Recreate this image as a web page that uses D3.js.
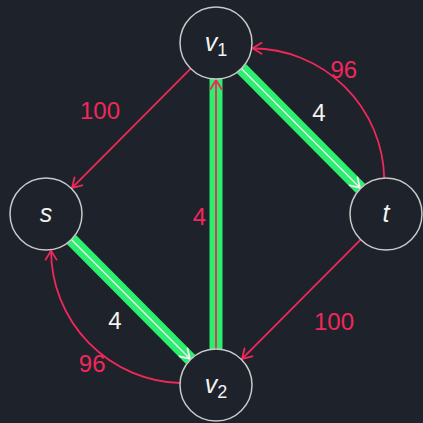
<!DOCTYPE html>
<html>
<head>
<meta charset="utf-8">
<script src="https://cdn.jsdelivr.net/npm/d3@7"></script>
<style>
  html, body { margin: 0; background: #1e222b; }
  svg { display: block; }
</style>
</head>
<body>
<div id="chart"></div>
<script>
// graph data
const nodeIds = ['s', 'v1', 't', 'v2']
const nodeNames = ['s', 'v', 't', 'v']
const nodeSubs = ['', '1', '', '2']
const nodeCol = [0, 1, 2, 1]
const nodeRow = [1, 0, 1, 2]

const edgeSources = ['v1', 't', 'v1', 't', 'v2', 's', 'v2']
const edgeTargets = ['s', 'v2', 't', 'v1', 'v1', 'v2', 's']
const edgeValues = [100, 100, 4, 96, 4, 4, 96]
// residual: plain red, reverse: curved red, flow: green band w/ white, path: green band w/ red
const edgeKinds = ['residual', 'residual', 'flow', 'reverse', 'path', 'flow', 'reverse']

const width = 423
const height = 423
const R = 36
const RED = '#f0285a'
const GREEN = '#2cef6f'
const WHITE = '#f2f2f2'
const BG = '#1e222b'

// label nudges (px) from the edge middle
const labelNudge = [[-31, -18.5], [33, 21.5], [18, -16.5], [-1, -17], [-16.5, 2], [-16, 21], [3, 20]]

const x = d3.scaleLinear().domain([0, 2]).range([46, 386])
const y = d3.scaleLinear().domain([0, 2]).range([43, 385])

const nodes = nodeIds.map((id, i) => ({
  id, name: nodeNames[i], sub: nodeSubs[i], x: x(nodeCol[i]), y: y(nodeRow[i]),
}))
const byId = Object.fromEntries(nodes.map(n => [n.id, n]))
const center = { x: d3.mean(nodes, n => n.x), y: d3.mean(nodes, n => n.y) }

const svg = d3.select('#chart').append('svg')
  .attr('width', width).attr('height', height)

svg.append('rect').attr('width', width).attr('height', height).attr('fill', BG)

const defs = svg.append('defs')
function marker(id, color) {
  defs.append('marker')
    .attr('id', id)
    .attr('markerUnits', 'userSpaceOnUse')
    .attr('viewBox', '-12 -8 14 16')
    .attr('refX', 0).attr('refY', 0)
    .attr('markerWidth', 14).attr('markerHeight', 16)
    .attr('orient', 'auto')
    .append('path')
    .attr('d', 'M-9,-5.5L0,0L-9,5.5')
    .attr('fill', 'none')
    .attr('stroke', color)
    .attr('stroke-width', 1.8)
    .attr('stroke-linecap', 'round')
    .attr('stroke-linejoin', 'round')
}
marker('arrow-red', RED)
marker('arrow-white', WHITE)

const deg = Math.PI / 180
const bands = svg.append('g')
const lines = svg.append('g')
const texts = svg.append('g')

edgeSources.forEach((src, i) => {
  const a = byId[src]
  const b = byId[edgeTargets[i]]
  const kind = edgeKinds[i]
  const dx = b.x - a.x
  const dy = b.y - a.y
  const len = Math.hypot(dx, dy)
  const ux = dx / len
  const uy = dy / len
  const mid = { x: (a.x + b.x) / 2, y: (a.y + b.y) / 2 }
  let lx, ly

  if (kind === 'reverse') {
    // bulge away from the middle of the graph
    const ox = mid.x - center.x
    const oy = mid.y - center.y
    const sign = (-uy * ox + ux * oy) > 0 ? 1 : -1
    const ang = Math.atan2(dy, dx)
    const sa = ang + sign * 42 * deg
    const ea = ang + Math.PI - sign * 37 * deg
    const s = { x: a.x + R * Math.cos(sa), y: a.y + R * Math.sin(sa) }
    const e = { x: b.x + (R + 1) * Math.cos(ea), y: b.y + (R + 1) * Math.sin(ea) }
    const rr = 133
    lines.append('path')
      .attr('d', `M${s.x},${s.y}A${rr},${rr} 0 0 ${sign > 0 ? 0 : 1} ${e.x},${e.y}`)
      .attr('fill', 'none')
      .attr('stroke', RED)
      .attr('stroke-width', 1.8)
      .attr('marker-end', 'url(#arrow-red)')
    const ch = Math.hypot(e.x - s.x, e.y - s.y) / 2
    const sag = rr - Math.sqrt(rr * rr - ch * ch)
    const on = Math.hypot(ox, oy)
    lx = (s.x + e.x) / 2 + (ox / on) * sag
    ly = (s.y + e.y) / 2 + (oy / on) * sag
  } else {
    const s = { x: a.x + ux * R, y: a.y + uy * R }
    const e = { x: b.x - ux * (R + 1), y: b.y - uy * (R + 1) }
    if (kind === 'flow' || kind === 'path') {
      bands.append('line')
        .attr('x1', a.x + ux * R).attr('y1', a.y + uy * R)
        .attr('x2', b.x - ux * R).attr('y2', b.y - uy * R)
        .attr('stroke', GREEN)
        .attr('stroke-width', 13)
    }
    const color = kind === 'flow' ? WHITE : RED
    lines.append('line')
      .attr('x1', s.x).attr('y1', s.y)
      .attr('x2', e.x).attr('y2', e.y)
      .attr('stroke', color)
      .attr('stroke-width', kind === 'flow' ? 1.3 : 1.8)
      .attr('marker-end', kind === 'flow' ? 'url(#arrow-white)' : 'url(#arrow-red)')
    lx = mid.x
    ly = mid.y
  }

  texts.append('text')
    .attr('x', lx + labelNudge[i][0])
    .attr('y', ly + labelNudge[i][1])
    .attr('dy', 8.6)
    .attr('text-anchor', 'middle')
    .attr('font-family', 'Liberation Sans, Arial, sans-serif')
    .attr('font-size', 24)
    .attr('fill', kind === 'flow' ? WHITE : RED)
    .text(edgeValues[i])
})

const nodeG = svg.append('g')
  .selectAll('g')
  .data(nodes)
  .join('g')
  .attr('transform', d => `translate(${d.x},${d.y})`)

nodeG.append('circle')
  .attr('r', R)
  .attr('fill', 'none')
  .attr('stroke', '#c9c9c9')
  .attr('stroke-width', 1.5)

const label = nodeG.append('text')
  .attr('y', 8)
  .attr('text-anchor', 'middle')
  .attr('font-family', 'Liberation Sans, Arial, sans-serif')
  .attr('fill', WHITE)

label.append('tspan')
  .attr('font-size', 25)
  .attr('font-style', 'italic')
  .text(d => d.name)

label.filter(d => d.sub)
  .append('tspan')
  .attr('font-size', 18)
  .attr('dy', 5)
  .text(d => d.sub)
</script>
</body>
</html>
